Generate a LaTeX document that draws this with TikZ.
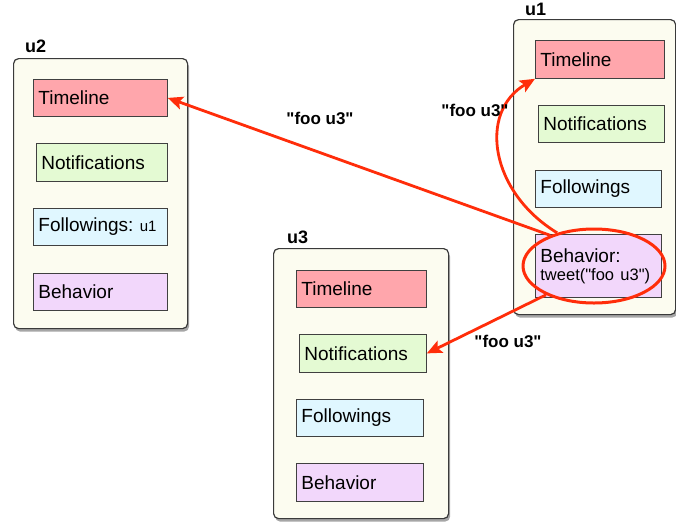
\documentclass[tikz,border=0pt]{standalone}
\usepackage{fontspec}
\setmainfont{Liberation Sans}
\usetikzlibrary{shapes.geometric,shadows,arrows.meta}

\definecolor{panelfill}{HTML}{FCFCF0}
\definecolor{panelline}{HTML}{3A3A3A}
\definecolor{tlfill}{HTML}{FFA6AC}
\definecolor{nofill}{HTML}{E4FAD3}
\definecolor{fofill}{HTML}{E0F7FF}
\definecolor{befill}{HTML}{F2D7FB}
\definecolor{flowred}{HTML}{FF2D0A}
\newcommand{\msg}{\textquotedbl foo u3\textquotedbl}
\frenchspacing

\begin{document}
\begin{tikzpicture}[x=1pt,y=-1pt,
  panel/.style={draw=panelline, line width=1.2pt, fill=panelfill, rounded corners=5pt,
    anchor=north west, inner sep=0pt,
    drop shadow={shadow xshift=1.5pt, shadow yshift=-3pt, fill=black, opacity=0.35}},
  ulabel/.style={font=\fontsize{18}{20}\selectfont\bfseries, anchor=base west, inner sep=0pt},
  field/.style={draw=black!75, line width=0.8pt, anchor=north west, align=left,
    inner xsep=5pt, inner ysep=0pt, font=\fontsize{19}{21}\selectfont},
  flow/.style={draw=flowred, line width=2.8pt,
    -{Stealth[length=15pt,width=13pt,inset=3pt]}},
  flowlabel/.style={font=\fontsize{17}{19}\selectfont\bfseries, inner sep=0pt}]
\useasboundingbox (0,0) rectangle (676,525);

% user panels
\node[panel, minimum width=174pt, minimum height=270pt] (u2) at (13,58) {};
\node[panel, minimum width=162pt, minimum height=295pt] (u1) at (513,19) {};
\node[panel, minimum width=175pt, minimum height=270pt] (u3) at (273,248) {};

\node[ulabel] (u2name) at (25,52) {u2};
\node[ulabel] (u1name) at (525,15) {u1};
\node[ulabel] (u3name) at (287,243) {u3};

% fields of u2
\node[field, fill=tlfill, minimum height=37pt, text width=124pt] (u2tl) at (33,79) {Timeline};
\node[field, fill=nofill, minimum height=38pt, text width=121pt] (u2no) at (36,143) {Notifications};
\node[field, fill=fofill, minimum height=37pt, text width=124pt] (u2fo) at (33,208)
  {Followings: {\fontsize{15}{17}\selectfont u1}};
\node[field, fill=befill, minimum height=37pt, text width=124pt] (u2be) at (33,273) {Behavior};

% fields of u1
\node[field, fill=tlfill, minimum height=38pt, text width=119pt] (u1tl) at (535,40) {Timeline};
\node[field, fill=nofill, minimum height=37pt, text width=116pt] (u1no) at (538,105) {Notifications};
\node[field, fill=fofill, minimum height=37pt, text width=116pt] (u1fo) at (535,170) {Followings};
\node[field, fill=befill, minimum height=63pt, text width=116pt] (u1be) at (535,234)
  {Behavior:\\[-3pt]{\fontsize{16.5}{18}\selectfont tweet(\msg)}};

% fields of u3
\node[field, fill=tlfill, minimum height=37pt, text width=120pt] (u3tl) at (296,270) {Timeline};
\node[field, fill=nofill, minimum height=38pt, text width=117pt] (u3no) at (299,334) {Notifications};
\node[field, fill=fofill, minimum height=37pt, text width=117pt] (u3fo) at (296,399) {Followings};
\node[field, fill=befill, minimum height=38pt, text width=117pt] (u3be) at (296,463) {Behavior};

% highlight of the tweet action
\node[draw=flowred, line width=3pt, ellipse, minimum width=142pt, minimum height=74pt,
  inner sep=0pt] (act) at (594,266) {};

% message deliveries
\draw[flow] (act.145) -- (u2tl.east);
\draw[flow] (act.138) .. controls (490,192) and (478,112) .. (u1tl.south west);
\draw[flow] (act.211) -- (u3no.east);

\node[flowlabel] (lbl2) at (320,118) {\msg};
\node[flowlabel] (lbl1) at (475,110) {\msg};
\node[flowlabel] (lbl3) at (508,341) {\msg};
\end{tikzpicture}
\end{document}
